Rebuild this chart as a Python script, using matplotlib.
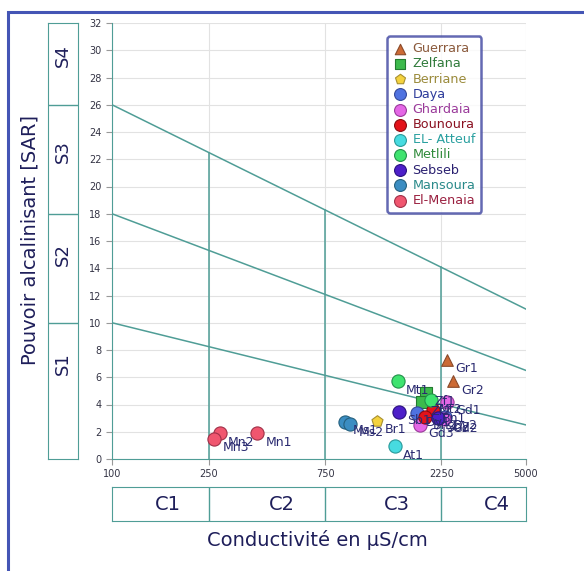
import numpy as np
import matplotlib
matplotlib.use("Agg")
import matplotlib.pyplot as plt
from matplotlib.patches import Rectangle

# ---- data ----
x_ticks = [100, 250, 750, 2250, 5000]
y_ticks = list(range(0, 33, 2))
class_bounds = [250, 750, 2250]
c_labels = ["C1", "C2", "C3", "C4"]
c_label_x = [170, 500, 1480, 3800]
s_bounds = [10, 18, 26]
s_labels = ["S1", "S2", "S3", "S4"]
s_label_y = [7.0, 15.0, 22.6, 29.6]

# SAR boundary lines (conductivity 100 -> 5000)
sar_left = [26, 18, 10]
sar_right = [11, 6.5, 2.5]

regions = ["Guerrara", "Zelfana", "Berriane", "Daya", "Ghardaia", "Bounoura",
           "EL- Atteuf", "Metlili", "Sebseb", "Mansoura", "El-Menaia"]
markers = ["^", "s", "p", "o", "o", "o", "o", "o", "o", "o", "o"]
face_colors = ["#cc6a35", "#3dba4c", "#f4d23e", "#4f72e0", "#e467e6", "#e3121a",
               "#47dbe0", "#3fe36f", "#4d1fc9", "#3b8dc2", "#f0566f"]
edge_colors = ["#8a4a2a", "#237a30", "#a89030", "#34489a", "#9a3a9a", "#8a0a10",
               "#2a9a9a", "#22904a", "#2a1080", "#25607e", "#a03048"]
text_colors = ["#8b5a3c", "#2f7a3a", "#9a8a3a", "#2c3a9a", "#9a3a9a", "#8a1020",
               "#2aa0a0", "#2f8a3a", "#2a2070", "#2a8a8a", "#9a2040"]

cond = [
    [2370, 2500],
    [1950, 1880],
    [1220],
    [1790, 2320],
    [2370, 2300, 1840],
    [2075, 1920],
    [1450],
    [1490, 2030],
    [1510, 2180],
    [900, 950],
    [395, 277, 262],
]
sar = [
    [7.3, 5.7],
    [4.85, 4.15],
    [2.8],
    [3.35, 3.1],
    [4.2, 2.9, 2.5],
    [3.6, 3.1],
    [0.95],
    [5.7, 4.3],
    [3.45, 3.0],
    [2.75, 2.6],
    [1.9, 1.9, 1.5],
]
names = [
    ["Gr1", "Gr2"],
    ["Zf1", "Zf2"],
    ["Br1"],
    ["Dy1", "Dy2"],
    ["Gd1", "Gd2", "Gd3"],
    ["Bn1", "Bn2"],
    ["At1"],
    ["Mt1", "Mt2"],
    ["Sb1", "Sb2"],
    ["Ms1", "Ms2"],
    ["Mn1", "Mn2", "Mn3"],
]

TEAL = "#4f9d96"
W, H = 584, 571
fig = plt.figure(figsize=(W / 100, H / 100), dpi=100)

# outer frame
fig.patches.append(Rectangle((8 / W, -0.05), 1.1, 1 - 12 / H + 0.05,
                             transform=fig.transFigure, fill=False,
                             edgecolor="#4455b5", linewidth=2.2))

left, right = 112 / W, 526 / W
bottom, top = 1 - 459 / H, 1 - 23 / H
ax = fig.add_axes([left, bottom, right - left, top - bottom])
ax.set_xscale("log")
ax.set_xlim(100, 5000)
ax.set_ylim(0, 32)
ax.set_xticks(x_ticks)
ax.set_xticklabels([str(t) for t in x_ticks])
ax.minorticks_off()
ax.set_yticks(y_ticks)
ax.tick_params(labelsize=7, colors="#999999", labelcolor="#333344", length=4, width=0.8)
ax.grid(True, color="#e2e2e2", linewidth=0.8)
ax.set_axisbelow(True)
for s in ["top", "right"]:
    ax.spines[s].set_visible(False)
ax.spines["left"].set_color(TEAL)
ax.spines["bottom"].set_color(TEAL)

lx0, lx1 = np.log10(100), np.log10(5000)
for a, b in zip(sar_left, sar_right):
    ax.plot([100, 5000], [a, b], color=TEAL, lw=1.1, zorder=2)
for xb in class_bounds:
    t = (np.log10(xb) - lx0) / (lx1 - lx0)
    ytop = sar_left[0] + (sar_right[0] - sar_left[0]) * t
    ax.plot([xb, xb], [0, ytop], color=TEAL, lw=1.1, zorder=2)

for i, reg in enumerate(regions):
    ax.scatter(cond[i], sar[i], marker=markers[i], s=90 if markers[i] == "o" else 70,
               facecolor=face_colors[i], edgecolor=edge_colors[i], linewidth=0.8,
               zorder=4, label=reg)
    for xv, yv, nm in zip(cond[i], sar[i], names[i]):
        ax.annotate(nm, (xv, yv), xytext=(6, -9), textcoords="offset points",
                    fontsize=9, color="#2a2a70", zorder=5)

leg = ax.legend(loc="upper left", bbox_to_anchor=(0.655, 0.978), fontsize=9.2,
                frameon=True, fancybox=True, edgecolor="#3d44a0", labelspacing=0.17,
                handletextpad=0.35, borderpad=0.45, handlelength=1.2, markerscale=0.9,
                borderaxespad=0.3)
leg.get_frame().set_linewidth(1.8)
for txt, c in zip(leg.get_texts(), text_colors):
    txt.set_color(c)

# S class column
ax_s = fig.add_axes([48 / W, bottom, 30 / W, top - bottom])
ax_s.set_xlim(0, 1)
ax_s.set_ylim(0, 32)
ax_s.set_xticks([])
ax_s.set_yticks([])
for sp in ax_s.spines.values():
    sp.set_color(TEAL)
for yb in s_bounds:
    ax_s.axhline(yb, color=TEAL, lw=1.0)
for lab, yv in zip(s_labels, s_label_y):
    ax_s.text(0.5, yv, lab, rotation=90, ha="center", va="center", fontsize=13,
              color="#1e1e5a")

# C class row
ax_c = fig.add_axes([left, 1 - 521 / H, right - left, 34 / H])
ax_c.set_xscale("log")
ax_c.set_xlim(100, 5000)
ax_c.set_ylim(0, 1)
ax_c.set_xticks([])
ax_c.set_yticks([])
ax_c.minorticks_off()
for sp in ax_c.spines.values():
    sp.set_color(TEAL)
for xb in class_bounds:
    ax_c.axvline(xb, color=TEAL, lw=1.0)
for lab, xv in zip(c_labels, c_label_x):
    ax_c.text(xv, 0.5, lab, ha="center", va="center", fontsize=14, color="#1e1e5a")

fig.text(317 / W, 1 - 540 / H, "Conductivité en µS/cm", ha="center", va="center",
         fontsize=14, color="#1e1e5a")
fig.text(30 / W, 1 - 240 / H, "Pouvoir alcalinisant [SAR]", ha="center", va="center",
         rotation=90, fontsize=14, color="#1e1e5a")

fig.savefig("out.png", dpi=100)
